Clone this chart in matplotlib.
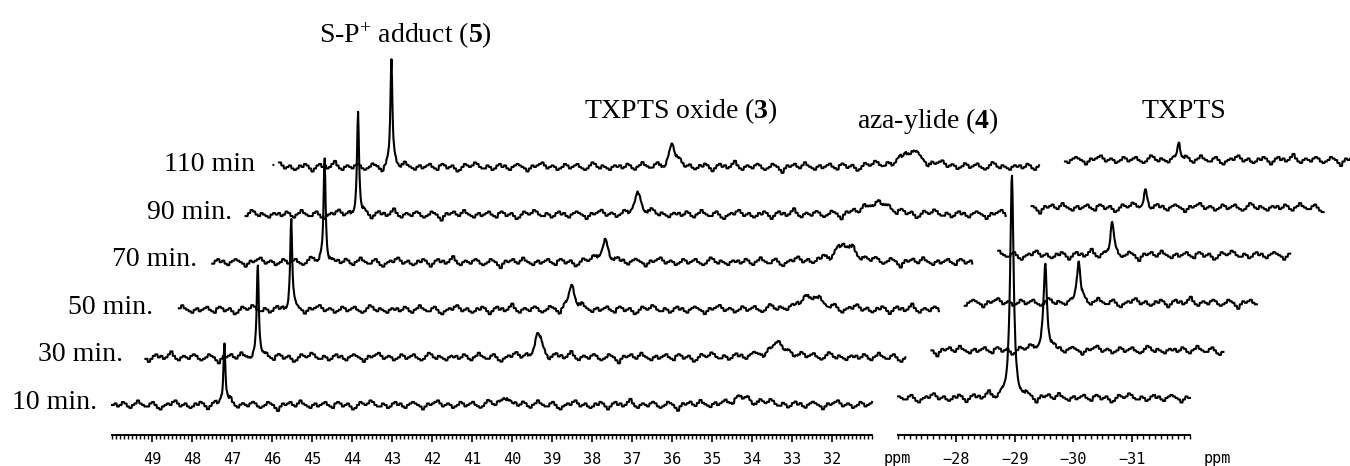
import numpy as np
import matplotlib.pyplot as plt
from matplotlib.transforms import ScaledTranslation
from matplotlib.ticker import MultipleLocator

plt.rcParams['font.family'] = ['Liberation Serif', 'DejaVu Serif']
plt.rcParams['mathtext.fontset'] = 'custom'
plt.rcParams['mathtext.rm'] = 'Liberation Serif'
plt.rcParams['mathtext.bf'] = 'Liberation Serif:bold'
plt.rcParams['mathtext.it'] = 'Liberation Serif:italic'

# spectra, bottom to top
labels = ['10 min.', '30 min.', '50 min.', '70 min.', '90 min.', '110 min']

# signal positions (ppm) and half widths
sp_ppm, sp_w = 47.19, 0.03          # S-P+ adduct (5)
oxide_ppm, oxide_w = 40.18, 0.10    # TXPTS oxide (3)
aza_ppm, aza_w = 34.2, 0.30         # aza-ylide (4)
txpts_ppm, txpts_w = -28.95, 0.035  # TXPTS

# signal heights in every spectrum
sp_h = [62, 94, 90, 106, 102, 107]
oxide_h = [9, 24, 22, 22, 21, 22]
aza_h = [8, 12, 14, 17, 13, 16]
txpts_h = [220, 87, 43, 32, 17, 16]

left_ticks = list(range(32, 50))
right_ticks = [-28, -29, -30, -31]

# baseline noise, read by eye
noise = [0, 1, -1, 0, 2, 1, -1, -2, 0, 1, 3, 1, 0, -1, -1, 1, 2, 0, -2, -3,
         -1, 0, 1, 0, 2, 3, 1, -1, 0, 1, -1, -2, -1, 1, 0, 2, 1, -1, -3, -1,
         1, 2, 0, 1, -1, 0, 2, 4, 1, -1, -2, 0, 1, 0, -1, 1, 2, 1, -1, -2,
         -1, 0, 2, 1, 0, -2, -4, -1, 1, 0, 1, 2, 0, -1, 1, 3, 1, 0, -1, -2,
         0, 1, -1, 0, 1, 2, 0, -1, -2, 1, 2, 1, -1, 0, 1, -1, -3, -2, 0, 2,
         1, 0, 1, 3, 2, 0, -1, -1, 1, 0, -2, -1, 1, 2, 0, 1, -1, -2, 0, 1,
         2, 1, 0, -1, -3, -1, 1, 0, 1, 2, 3, 1, -1, 0, 1, 0, -2, -1, 0, 2,
         1, -1, 0, 1, 2, 0, -1, -2, -1, 1, 3, 2, 0, -1, 1, 0, -1, -2, 0, 1]
noise = np.array(noise, dtype=float)


def lor(x, x0, h, g):
    return h * g**2 / ((x - x0)**2 + g**2)


W, H = 1350, 466
fig = plt.figure(figsize=(W / 100, H / 100), dpi=100)

axL = fig.add_axes([112 / W, 31 / H, 760 / W, 435 / H])
axR = fig.add_axes([898 / W, 31 / H, 292 / W, 435 / H])
axL.set_xlim(50, 31)
axR.set_xlim(-27, -32)
for ax in (axL, axR):
    ax.set_ylim(0, 435)
    ax.patch.set_visible(False)
    for s in ['top', 'left', 'right']:
        ax.spines[s].set_visible(False)
    ax.spines['bottom'].set_linewidth(1.4)
    ax.set_yticks([])
    ax.xaxis.set_minor_locator(MultipleLocator(0.1))
    ax.tick_params(axis='x', which='major', direction='out', length=5, width=1.2,
                   pad=7, labelsize=11, labelfontfamily='DejaVu Sans Mono')
    ax.tick_params(axis='x', which='minor', direction='out', length=3, width=1.0)
axL.set_xticks(left_ticks)
axR.set_xticks(right_ticks)
axR.set_xticklabels(['\u221228', '\u221229', '\u221230', '\u221231'])

xl = np.linspace(50, 31, 1521)
xr = np.linspace(-27, -32, 585)
n = len(noise)

for i in range(6):
    off = ScaledTranslation(i * 0.334, i * 0.476, fig.dpi_scale_trans)
    il = (i * 37 + np.arange(len(xl)) // 5) % n
    yl = 30 + 1.5 * noise[il] + lor(xl, sp_ppm, sp_h[i], sp_w) \
        + lor(xl, oxide_ppm, oxide_h[i], oxide_w) + lor(xl, aza_ppm, aza_h[i], aza_w)
    axL.plot(xl, yl, color='k', lw=1.5, clip_on=False, transform=axL.transData + off)

    ir = (i * 53 + 11 + np.arange(len(xr)) // 5) % n
    yr = 37 + 1.5 * noise[ir] + lor(xr, txpts_ppm, txpts_h[i], txpts_w)
    axR.plot(xr, yr, color='k', lw=1.5, clip_on=False, transform=axR.transData + off)

# labels of the spectra
label_x = [97, 123, 153, 197, 232, 255]
for i, lab in enumerate(labels):
    fig.text(label_x[i] / W, 1 - (409 - i * 47.6) / H, lab, ha='right', va='baseline',
             fontsize=20)
fig.text(273 / W, 1 - 166 / H, '.', ha='center', va='baseline', fontsize=14)

# signal names
fig.text(405 / W, 1 - 43 / H, r'S-P$^{+}$ adduct ($\mathbf{5}$)', ha='center',
         va='baseline', fontsize=20)
fig.text(681 / W, 1 - 118 / H, r'TXPTS oxide ($\mathbf{3}$)', ha='center',
         va='baseline', fontsize=20)
fig.text(928 / W, 1 - 128 / H, r'aza-ylide ($\mathbf{4}$)', ha='center',
         va='baseline', fontsize=20)
fig.text(1184 / W, 1 - 118 / H, 'TXPTS', ha='center', va='baseline', fontsize=20)

fig.text(897 / W, 1 - 458 / H, 'ppm', ha='center', va='center', fontsize=11,
         family='DejaVu Sans Mono')
fig.text(1217 / W, 1 - 458 / H, 'ppm', ha='center', va='center', fontsize=11,
         family='DejaVu Sans Mono')

fig.savefig('out.png', dpi=100)
